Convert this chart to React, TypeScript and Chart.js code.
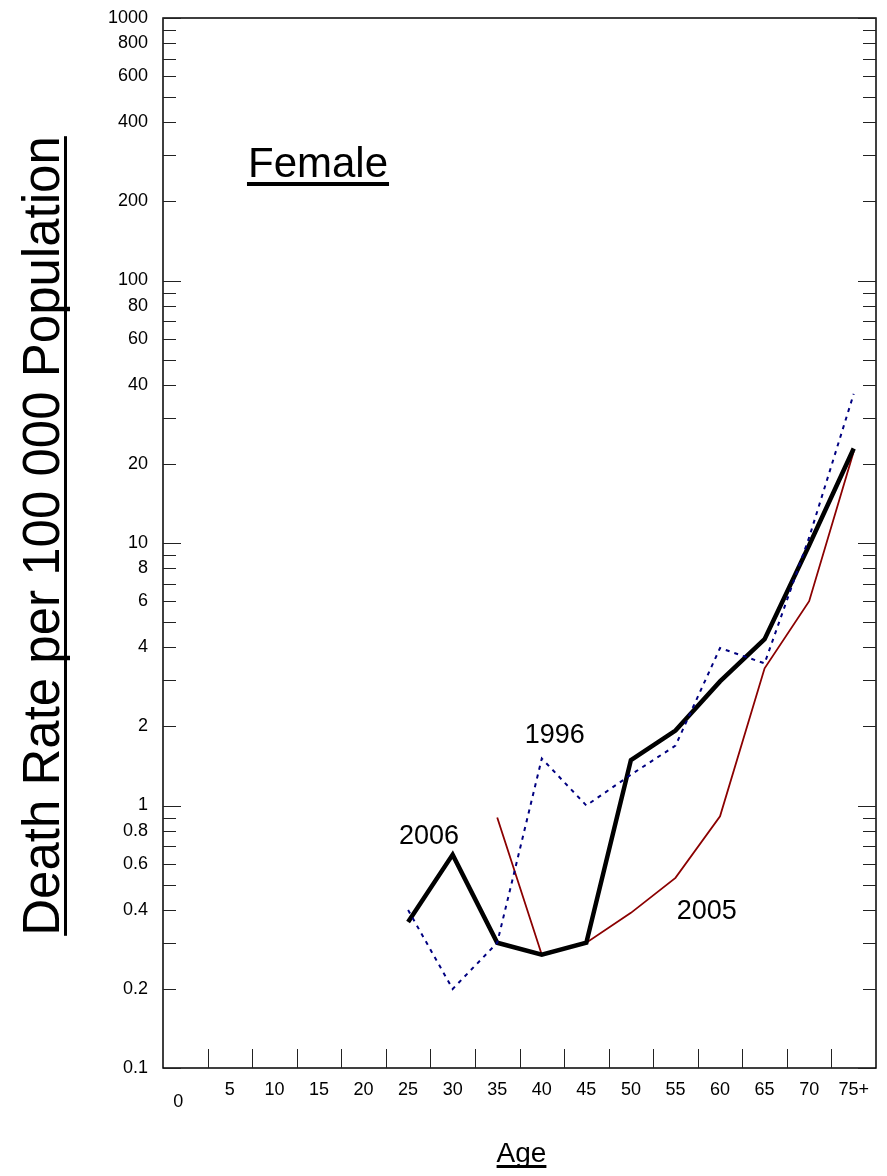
import React, { useEffect, useRef } from 'react';
import { Chart, registerables } from 'chart.js';

Chart.register(...registerables);

const FONT = "'Liberation Sans', Arial, Helvetica, sans-serif";

const ageGroups = ['0', '5', '10', '15', '20', '25', '30', '35', '40', '45', '50', '55', '60', '65', '70', '75+'];
const rate2006 = [null, null, null, null, null, 0.36, 0.65, 0.3, 0.27, 0.3, 1.49, 1.93, 2.97, 4.3, 9.8, 22.9];
const rate1996 = [null, null, null, null, null, 0.4, 0.2, 0.3, 1.51, 1.0, 1.31, 1.69, 3.98, 3.48, 10.5, 37];
const rate2005 = [null, null, null, null, null, null, null, 0.9, 0.27, 0.3, 0.39, 0.53, 0.91, 3.33, 6.0, 22.3];

const yLabelValues = [0.1, 0.2, 0.4, 0.6, 0.8, 1, 2, 4, 6, 8, 10, 20, 40, 60, 80, 100, 200, 400, 600, 800, 1000];
const yDecades = [0.1, 1, 10, 100];
const yMultipliers = [1, 2, 3, 4, 5, 6, 7, 8, 9];

// series labels: position in category-index units and data value (baseline)
const seriesLabels = [
  { text: '2006', at: 5.47, value: 0.712 },
  { text: '1996', at: 8.29, value: 1.725 },
  { text: '2005', at: 11.7, value: 0.369 },
];

const panelTitle = 'Female';
const xTitle = 'Age';
const yTitle = 'Death Rate per 100 000 Population';

const decorPlugin = {
  id: 'decor',
  afterDraw(chart: any) {
    const ctx = chart.ctx;
    const { left, right, top, bottom } = chart.chartArea;
    const xs = chart.scales.x;
    const ys = chart.scales.y;
    ctx.save();

    // frame
    ctx.strokeStyle = '#000';
    ctx.lineWidth = 1.5;
    ctx.strokeRect(left, top, right - left, bottom - top);

    // y tick marks (inside, both sides)
    ctx.lineWidth = 1;
    ctx.strokeStyle = '#222';
    const yVals: number[] = [];
    yDecades.forEach((d) => yMultipliers.forEach((m) => yVals.push(d * m)));
    yVals.push(1000);
    yVals.forEach((v) => {
      const major = Math.abs(Math.log10(v) - Math.round(Math.log10(v))) < 1e-9;
      const len = major ? 18 : 13;
      const y = Math.round(ys.getPixelForValue(v)) + 0.5;
      ctx.beginPath();
      ctx.moveTo(left, y);
      ctx.lineTo(left + len, y);
      ctx.moveTo(right - len, y);
      ctx.lineTo(right, y);
      ctx.stroke();
    });

    // x tick marks at category boundaries (inside)
    for (let i = 1; i < ageGroups.length; i++) {
      const x = Math.round((xs.getPixelForTick(i - 1) + xs.getPixelForTick(i)) / 2) + 0.5;
      ctx.beginPath();
      ctx.moveTo(x, bottom);
      ctx.lineTo(x, bottom - 19);
      ctx.stroke();
    }

    ctx.fillStyle = '#000';
    ctx.textAlign = 'center';

    // "0" label, set lower than the others
    ctx.font = `18px ${FONT}`;
    ctx.textBaseline = 'middle';
    ctx.fillText(ageGroups[0], xs.getPixelForTick(0) - 7, bottom + 34);

    ctx.textBaseline = 'alphabetic';

    // series labels
    ctx.font = `27px ${FONT}`;
    seriesLabels.forEach((s) => {
      ctx.fillText(s.text, xs.getPixelForValue(s.at), ys.getPixelForValue(s.value));
    });

    // panel title, underlined
    ctx.font = `42px ${FONT}`;
    const fx = 318;
    const fy = 177;
    ctx.fillText(panelTitle, fx, fy);
    const fw = ctx.measureText(panelTitle).width;
    ctx.fillRect(fx - fw / 2 - 1, fy + 5, fw + 2, 4);

    // x title, underlined
    ctx.font = `28px ${FONT}`;
    const ax = (left + right) / 2 + 2;
    const ay = 1162;
    ctx.fillText(xTitle, ax, ay);
    const aw = ctx.measureText(xTitle).width;
    ctx.fillRect(ax - aw / 2, ay + 3, aw, 3);

    // y title, rotated, underlined
    ctx.font = `51px ${FONT}`;
    const tx = 59;
    const ty = 536;
    ctx.translate(tx, ty);
    ctx.rotate(-Math.PI / 2);
    ctx.fillText(yTitle, 0, 0);
    const tw = ctx.measureText(yTitle).width;
    ctx.fillRect(-tw / 2, 5, tw, 3);

    ctx.restore();
  },
};

export default function App() {
  const ref = useRef<HTMLCanvasElement | null>(null);

  useEffect(() => {
    if (!ref.current) return;
    const chart = new Chart(ref.current, {
      type: 'line',
      data: {
        labels: ageGroups,
        datasets: [
          {
            label: '1996',
            data: rate1996,
            borderColor: '#000080',
            borderWidth: 2,
            borderDash: [4, 5],
            pointRadius: 0,
            fill: false,
            tension: 0,
          },
          {
            label: '2006',
            data: rate2006,
            borderColor: '#000',
            borderWidth: 4.5,
            pointRadius: 0,
            fill: false,
            tension: 0,
          },
          {
            label: '2005',
            data: rate2005,
            borderColor: '#8B0000',
            borderWidth: 1.8,
            pointRadius: 0,
            fill: false,
            tension: 0,
          },
        ],
      },
      options: {
        responsive: false,
        animation: false,
        layout: { padding: { top: 18, right: 11, left: 0, bottom: 0 } },
        plugins: {
          legend: { display: false },
          tooltip: { enabled: false },
          title: { display: false },
        },
        scales: {
          x: {
            type: 'category',
            offset: true,
            grid: { display: false, drawTicks: false },
            border: { display: false },
            ticks: {
              autoSkip: false,
              maxRotation: 0,
              minRotation: 0,
              padding: 11,
              color: '#000',
              font: { family: FONT, size: 18 },
              callback: (_v: any, i: number) => (i === 0 ? '' : ageGroups[i]),
            },
            afterFit: (s: any) => {
              s.height = 108;
              s.paddingLeft = 0;
              s.paddingRight = 0;
              s.paddingTop = 0;
              s.paddingBottom = 0;
            },
          },
          y: {
            type: 'logarithmic',
            min: 0.1,
            max: 1000,
            grid: { display: false, drawTicks: false },
            border: { display: false },
            afterBuildTicks: (s: any) => {
              s.ticks = yLabelValues.map((v) => ({ value: v }));
            },
            ticks: {
              autoSkip: false,
              padding: 15,
              color: '#000',
              font: { family: FONT, size: 18 },
              callback: (v: any) => String(v),
            },
            afterFit: (s: any) => {
              s.width = 163;
              s.paddingLeft = 0;
              s.paddingRight = 0;
              s.paddingTop = 0;
              s.paddingBottom = 0;
            },
          },
        },
      },
      plugins: [decorPlugin],
    } as any);
    return () => chart.destroy();
  }, []);

  return (
    <div style={{ position: 'absolute', left: 0, top: 0, width: 887, height: 1176, background: '#fff' }}>
      <canvas ref={ref} width={887} height={1176} style={{ display: 'block' }} />
    </div>
  );
}
